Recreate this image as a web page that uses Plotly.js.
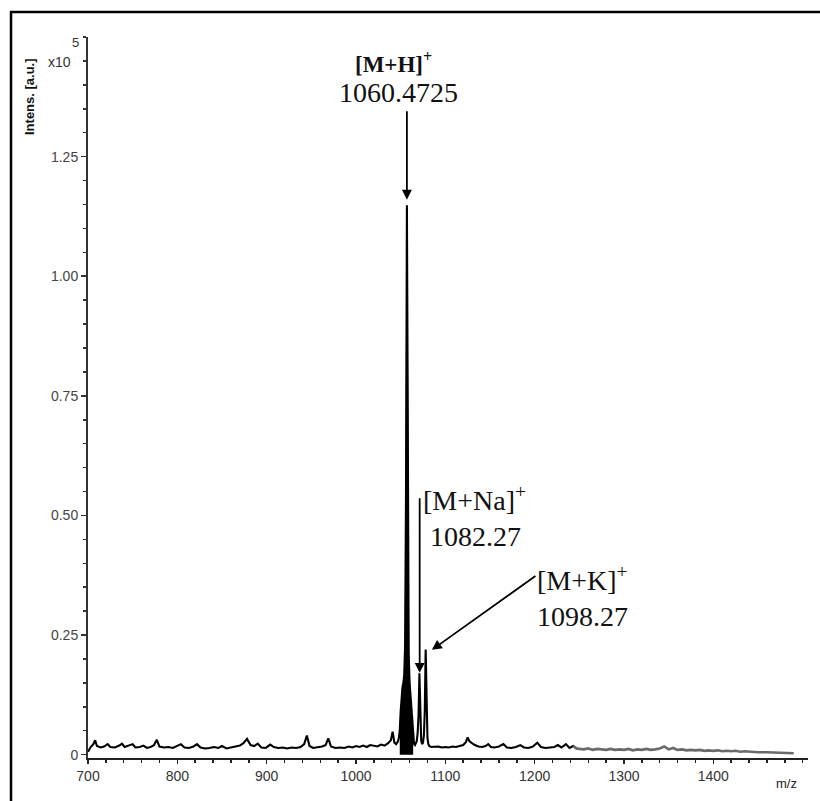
<!DOCTYPE html>
<html>
<head>
<meta charset="utf-8">
<script src="https://cdn.plot.ly/plotly-3.0.1.min.js"></script>
<style>
  html, body { margin: 0; padding: 0; background: #fff; }
  #chart { width: 820px; height: 801px; }
</style>
</head>
<body>
<div id="chart"></div>
<script>
// ---- Data (m/z, intensity in units of 10^5 a.u.) ----
const mz = [
  700,703,706,708,710,714,718,722,725,730,735,738,741,745,750,753,758,762,766,770,
  774,777,780,785,790,795,800,804,808,813,818,822,826,831,836,841,846,850,855,860,
  865,870,874,878,882,886,890,894,899,904,908,913,918,923,928,933,938,942,945,948,
  952,957,962,966,969,972,977,982,987,992,996,1000,1004,1008,1012,1016,1020,1024,1028,1032,
  1036,1039,1041,1043,1045,1047,1048,1049,1050,1051,1052,1053,1054,1055,1056,1057,1058,1059,1060,1061,
  1062,1063,1064,1065,1066,1068,1069,1070,1071,1072,1073,1074,1075,1076,1077,1078,1079,1080,1081,
  1082,1084,1088,1092,1096,1100,1104,1108,1112,1116,1120,1123,1125,1127,1130,1133,1137,1141,1145,1148,
  1151,1155,1160,1165,1169,1174,1179,1184,1188,1193,1198,1203,1207,1212,1217,1222,1226,1230,1235,1239,
  1243,1247,1250,1255,1260,1265,1270,1275,1280,1285,1290,1295,1300,1305,1310,1315,1320,1325,1330,1335,
  1340,1345,1350,1355,1360,1365,1370,1375,1380,1385,1390,1395,1400,1405,1410,1415,1420,1425,1430,1435,
  1440,1445,1450,1460,1470,1480,1490
];
const intensity = [
  0.006,0.016,0.022,0.030,0.018,0.015,0.017,0.022,0.016,0.015,0.019,0.023,0.016,0.018,0.022,0.015,0.016,0.019,0.014,0.016,
  0.020,0.031,0.017,0.015,0.016,0.014,0.019,0.022,0.015,0.014,0.017,0.022,0.015,0.013,0.014,0.016,0.014,0.018,0.013,0.015,
  0.016,0.019,0.024,0.033,0.020,0.018,0.023,0.015,0.014,0.021,0.016,0.014,0.015,0.013,0.015,0.014,0.016,0.022,0.040,0.018,
  0.014,0.015,0.017,0.020,0.034,0.017,0.014,0.015,0.014,0.017,0.015,0.018,0.016,0.019,0.016,0.020,0.018,0.017,0.021,0.019,
  0.024,0.030,0.048,0.025,0.022,0.028,0.035,0.050,0.090,0.120,0.140,0.150,0.165,0.230,0.550,1.148,0.500,0.210,0.150,0.125,
  0.095,0.055,0.030,0.022,0.020,0.028,0.045,0.080,0.170,0.060,0.030,0.022,0.025,0.040,0.090,0.220,0.075,0.035,0.022,
  0.018,0.016,0.016,0.017,0.015,0.016,0.015,0.017,0.016,0.018,0.020,0.026,0.036,0.028,0.024,0.020,0.017,0.016,0.018,0.022,
  0.016,0.015,0.017,0.022,0.015,0.014,0.016,0.020,0.015,0.014,0.017,0.025,0.016,0.014,0.015,0.016,0.020,0.015,0.022,0.014,
  0.018,0.013,0.012,0.011,0.013,0.010,0.012,0.011,0.010,0.012,0.010,0.011,0.010,0.012,0.009,0.011,0.010,0.012,0.010,0.011,
  0.013,0.017,0.011,0.014,0.010,0.011,0.009,0.010,0.009,0.010,0.008,0.009,0.008,0.009,0.007,0.008,0.007,0.008,0.006,0.007,
  0.006,0.006,0.005,0.005,0.004,0.004,0.003
];

const yTickVals = [0, 0.25, 0.5, 0.75, 1.0, 1.25];
const yTickText = ["0", "0.25", "0.50", "0.75", "1.00", "1.25"];
const xTickVals = [700, 800, 900, 1000, 1100, 1200, 1300, 1400];
const xTickText = ["700", "800", "900", "1000", "1100", "1200", "1300", "1400"];

const peakLabels = ["[M+H]<sup>+</sup>", "[M+Na]<sup>+</sup>", "[M+K]<sup>+</sup>"];
const peakValues = ["1060.4725", "1082.27", "1098.27"];

// ---- Split into segments ----
function pick(lo, hi) {
  const x = [], y = [];
  for (let i = 0; i < mz.length; i++) {
    if (mz[i] >= lo && mz[i] <= hi) { x.push(mz[i]); y.push(intensity[i]); }
  }
  return {x, y};
}
const mainSeg = pick(700, 1250);
const tailSeg = pick(1243, 1500);
const clusterSeg = pick(1049, 1064);

// ---- Geometry helpers (pixel -> paper) ----
const W = 820, H = 801;
const M = {l: 88, r: 12, t: 37, b: 43};
const PW = W - M.l - M.r, PH = H - M.t - M.b;
const px = v => (v - M.l) / PW;
const py = v => (H - M.b - v) / PH;

const serif = "Liberation Serif, Times New Roman, serif";
const sans = "Liberation Sans, Arial, sans-serif";

const traces = [
  {x: clusterSeg.x, y: clusterSeg.y, type: "scatter", mode: "lines",
   line: {color: "#000", width: 1}, fill: "tozeroy", fillcolor: "#000", hoverinfo: "skip"},
  {x: mainSeg.x, y: mainSeg.y, type: "scatter", mode: "lines",
   line: {color: "#000", width: 2.1}},
  {x: tailSeg.x, y: tailSeg.y, type: "scatter", mode: "lines",
   line: {color: "#6a6a6a", width: 2.6}}
];

function txt(text, xpx, ypx, opts) {
  return Object.assign({
    text: text, xref: "paper", yref: "paper", x: px(xpx), y: py(ypx),
    showarrow: false, xanchor: "center", yanchor: "middle",
    font: {family: serif, size: 28, color: "#111"}
  }, opts || {});
}

const annotations = [
  // peak labels
  txt(peakLabels[0], 353, 63, {xanchor: "left", font: {family: serif, size: 23, color: "#111", weight: "bold"}}),
  txt(peakValues[0], 398, 93, {font: {family: serif, size: 28, color: "#111"}}),
  txt(peakLabels[1] + "<br>\u00A0" + peakValues[1], 421, 516, {xanchor: "left", align: "left"}),
  txt(peakLabels[2] + "<br>" + peakValues[2], 535, 596, {xanchor: "left", align: "left"}),
  // arrows
  {x: 1057, y: 1.16, xref: "x", yref: "y", text: "", showarrow: true,
   ax: 0, ay: -90, arrowhead: 2, arrowsize: 1.1, arrowwidth: 1.8, arrowcolor: "#000"},
  {x: 1071.3, y: 0.171, xref: "x", yref: "y", text: "", showarrow: true,
   ax: 0, ay: -176, arrowhead: 2, arrowsize: 1.1, arrowwidth: 1.8, arrowcolor: "#000"},
  {x: 1085, y: 0.219, xref: "x", yref: "y", text: "", showarrow: true,
   ax: 105, ay: -75, arrowhead: 2, arrowsize: 1.1, arrowwidth: 1.8, arrowcolor: "#000"},
  // axis decorations
  txt("Intens. [a.u.]", 30, 96, {textangle: -90,
      font: {family: sans, size: 13, color: "#111", weight: "bold"}}),
  txt("x10", 59, 62, {font: {family: sans, size: 14, color: "#333"}}),
  txt("5", 75, 42, {font: {family: sans, size: 13, color: "#333"}}),
  txt("m/z", 786, 783, {font: {family: sans, size: 13, color: "#222"}})
];

const shapes = [
  {type: "line", xref: "paper", yref: "paper", x0: px(10), x1: px(822), y0: py(12), y1: py(12),
   line: {color: "#000", width: 2.5}},
  {type: "line", xref: "paper", yref: "paper", x0: px(11), x1: px(11), y0: py(11), y1: py(803),
   line: {color: "#000", width: 2.5}}
];

const layout = {
  width: W, height: H,
  margin: M,
  paper_bgcolor: "#fff", plot_bgcolor: "#fff",
  showlegend: false,
  xaxis: {
    range: [700, 1506], showgrid: false, zeroline: false,
    showline: true, linecolor: "#222", linewidth: 2,
    tickmode: "array", tickvals: xTickVals, ticktext: xTickText,
    ticks: "outside", ticklen: 4, tickwidth: 1.5, tickcolor: "#222",
    minor: {dtick: 20, tick0: 700, ticks: "outside", ticklen: 3, tickwidth: 1.5, tickcolor: "#222", showgrid: false},
    tickfont: {family: sans, size: 14, color: "#333"}
  },
  yaxis: {
    range: [-0.007, 1.5], showgrid: false, zeroline: false,
    showline: true, linecolor: "#333", linewidth: 2,
    tickmode: "array", tickvals: yTickVals, ticktext: yTickText,
    ticks: "outside", ticklen: 5, tickwidth: 1.5, tickcolor: "#333",
    minor: {dtick: 0.05, tick0: 0, ticks: "outside", ticklen: 3, tickwidth: 1.5, tickcolor: "#333", showgrid: false},
    tickfont: {family: sans, size: 14, color: "#444"}
  },
  annotations: annotations,
  shapes: shapes
};

Plotly.newPlot("chart", traces, layout, {staticPlot: true, displayModeBar: false});
</script>
</body>
</html>
